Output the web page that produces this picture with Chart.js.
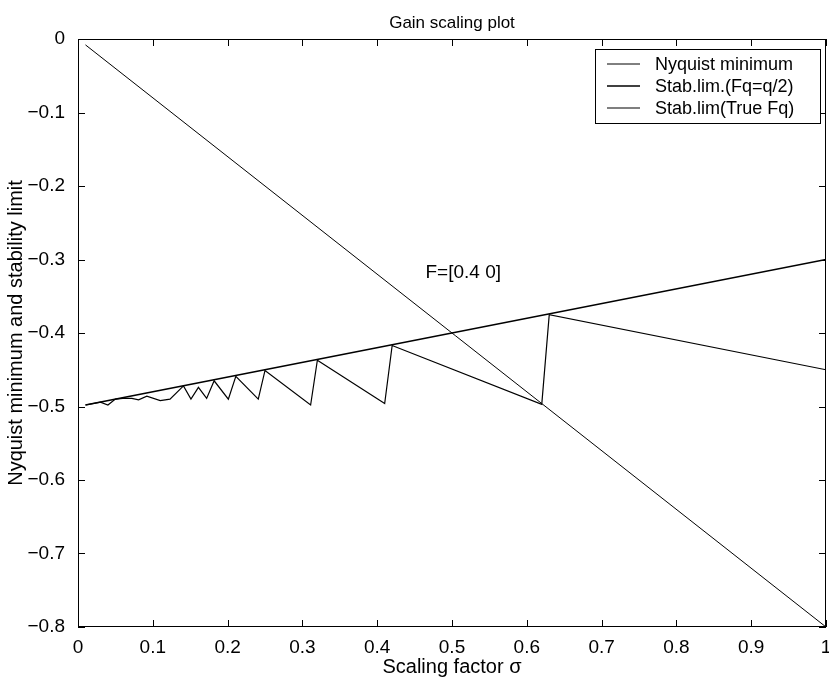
<!DOCTYPE html>
<html>
<head>
<meta charset="utf-8">
<script src="https://cdn.jsdelivr.net/npm/chart.js@4.4.1/dist/chart.umd.min.js"></script>
<style>
  html, body { margin: 0; padding: 0; background: #fff; }
  #wrap { width: 829px; height: 677px; position: relative; }
</style>
</head>
<body>
<div id="wrap"><canvas id="chart"></canvas></div>
<script>
// data
const nyquistSigma = [0.01, 1];
const nyquistVal = [-0.008, -0.8];
const halfFqSigma = [0.01, 1];
const halfFqVal = [-0.498, -0.3];
const trueFqSigma = [0.01, 0.03, 0.04, 0.05, 0.06, 0.072, 0.081, 0.092, 0.11, 0.123,
  0.141, 0.151, 0.161, 0.172, 0.182, 0.201, 0.211, 0.241, 0.25, 0.311,
  0.32, 0.41, 0.42, 0.62, 0.63, 1];
const trueFqVal = [-0.498, -0.494, -0.498, -0.49, -0.489, -0.489, -0.491, -0.486, -0.492, -0.49,
  -0.472, -0.49, -0.474, -0.489, -0.465, -0.49, -0.459, -0.49, -0.451, -0.498,
  -0.437, -0.496, -0.417, -0.497, -0.375, -0.45];
const seriesNames = ['Nyquist minimum', 'Stab.lim.(Fq=q/2)', 'Stab.lim(True Fq)'];
const xTicks = [0, 0.1, 0.2, 0.3, 0.4, 0.5, 0.6, 0.7, 0.8, 0.9, 1];
const yTicks = [0, -0.1, -0.2, -0.3, -0.4, -0.5, -0.6, -0.7, -0.8];

const FONT = '"Liberation Sans", Arial, Helvetica, sans-serif';

const toPoints = (xs, ys) => xs.map((x, i) => ({ x: x, y: ys[i] }));

const fmt = (v) => {
  let s = String(Math.round(v * 10) / 10);
  return s.replace('-', '\u2212');
};

// box, inside ticks, title, annotation and legend in MATLAB style
const matlabFrame = {
  id: 'matlabFrame',
  afterDraw(chart) {
    const ctx = chart.ctx;
    const a = chart.chartArea;
    const xs = chart.scales.x, ys = chart.scales.y;
    ctx.save();
    ctx.strokeStyle = '#000';
    ctx.lineWidth = 1;
    ctx.strokeRect(a.left + 0.5, a.top + 0.5, a.right - a.left - 1, a.bottom - a.top - 1);
    ctx.beginPath();
    xTicks.forEach(t => {
      const px = Math.round(xs.getPixelForValue(t)) + 0.5;
      ctx.moveTo(px, a.bottom); ctx.lineTo(px, a.bottom - 7);
      ctx.moveTo(px, a.top); ctx.lineTo(px, a.top + 7);
    });
    yTicks.forEach(t => {
      const py = Math.round(ys.getPixelForValue(t)) + 0.5;
      ctx.moveTo(a.left, py); ctx.lineTo(a.left + 7, py);
      ctx.moveTo(a.right, py); ctx.lineTo(a.right - 7, py);
    });
    ctx.stroke();

    // title
    ctx.fillStyle = '#000';
    ctx.font = '17px ' + FONT;
    ctx.textAlign = 'center';
    ctx.textBaseline = 'bottom';
    ctx.fillText('Gain scaling plot', (a.left + a.right) / 2, a.top - 7);

    // annotation
    ctx.font = '19px ' + FONT;
    ctx.textBaseline = 'middle';
    ctx.fillText('F=[0.4 0]', xs.getPixelForValue(0.515), ys.getPixelForValue(-0.318));

    // legend box
    const lx = 595, ly = a.top + 10, lw = a.right - 6 - lx, rowH = 22;
    const lh = rowH * chart.data.datasets.length + 8;
    ctx.fillStyle = '#fff';
    ctx.fillRect(lx, ly, lw, lh);
    ctx.strokeRect(lx + 0.5, ly + 0.5, lw, lh);
    ctx.font = '18px ' + FONT;
    ctx.textAlign = 'left';
    chart.data.datasets.forEach((ds, i) => {
      const y = ly + 15 + i * rowH;
      ctx.beginPath();
      ctx.lineWidth = ds.borderWidth;
      ctx.moveTo(lx + 12, y); ctx.lineTo(lx + 45, y);
      ctx.stroke();
      ctx.fillStyle = '#000';
      ctx.fillText(ds.label, lx + 60, y + 1);
    });
    ctx.restore();
  }
};

new Chart(document.getElementById('chart'), {
  type: 'line',
  data: {
    datasets: [
      { label: seriesNames[0], data: toPoints(nyquistSigma, nyquistVal), borderColor: '#000', borderWidth: 1 },
      { label: seriesNames[1], data: toPoints(halfFqSigma, halfFqVal), borderColor: '#000', borderWidth: 1.7 },
      { label: seriesNames[2], data: toPoints(trueFqSigma, trueFqVal), borderColor: '#000', borderWidth: 1.2 }
    ]
  },
  options: {
    responsive: true,
    maintainAspectRatio: false,
    animation: false,
    layout: { padding: { top: 39, right: 3, left: 0, bottom: 0 } },
    elements: { point: { radius: 0 }, line: { tension: 0, fill: false } },
    plugins: { legend: { display: false }, tooltip: { enabled: false } },
    scales: {
      x: {
        type: 'linear', min: 0, max: 1,
        afterBuildTicks: (s) => { s.ticks = xTicks.map(v => ({ value: v })); },
        afterFit: (s) => { s.height = 50; s.paddingLeft = 0; s.paddingRight = 0; },
        grid: { display: false },
        border: { display: false },
        ticks: { color: '#000', font: { family: FONT, size: 19, lineHeight: 1 }, padding: 3, maxRotation: 0, autoSkip: false, callback: fmt },
        title: { display: true, text: 'Scaling factor \u03c3', color: '#000', font: { family: FONT, size: 20, lineHeight: 1 }, padding: { top: 0, bottom: 0 } }
      },
      y: {
        type: 'linear', min: -0.8, max: 0,
        afterBuildTicks: (s) => { s.ticks = yTicks.map(v => ({ value: v })); },
        afterFit: (s) => { s.width = 78; s.paddingTop = 0; s.paddingBottom = 0; },
        grid: { display: false },
        border: { display: false },
        ticks: { color: '#000', font: { family: FONT, size: 19 }, padding: 5, autoSkip: false, callback: fmt },
        title: { display: true, text: 'Nyquist minimum and stability limit', color: '#000', font: { family: FONT, size: 20, lineHeight: 1 }, padding: { top: 6, bottom: 0 } }
      }
    }
  },
  plugins: [matlabFrame]
});
</script>
</body>
</html>
